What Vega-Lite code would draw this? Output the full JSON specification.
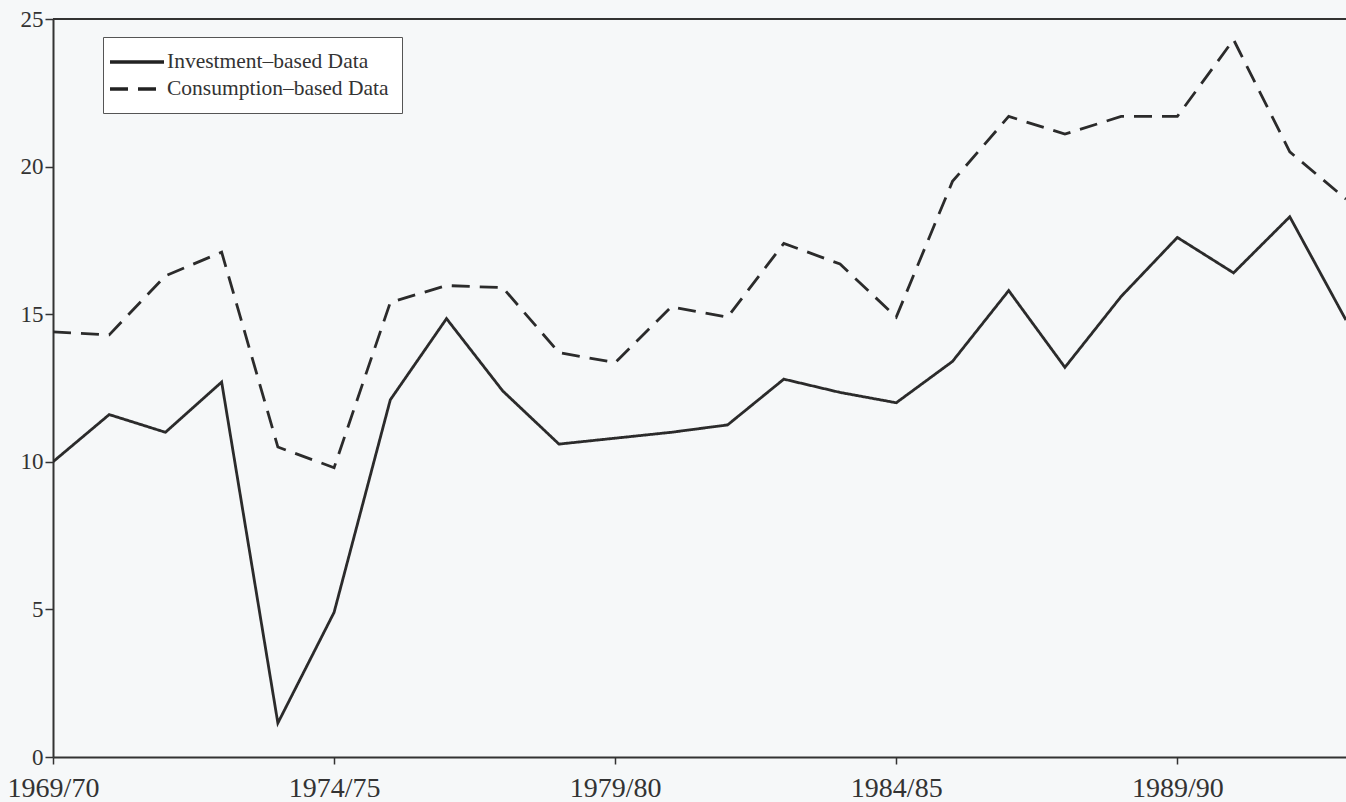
{
  "$schema": "https://vega.github.io/schema/vega-lite/v6.json",
  "width": 1293,
  "height": 738,
  "autosize": {"type": "none"},
  "padding": {"left": 53, "top": 19, "right": 0, "bottom": 45},
  "background": "#f6f8f9",
  "config": {"view": {"stroke": null}, "font": "Liberation Serif"},
  "datasets": {
    "series": [
      {"year": 1969, "series": "Investment–based Data", "value": 10.0},
      {"year": 1970, "series": "Investment–based Data", "value": 11.6},
      {"year": 1971, "series": "Investment–based Data", "value": 11.0},
      {"year": 1972, "series": "Investment–based Data", "value": 12.7},
      {"year": 1973, "series": "Investment–based Data", "value": 1.15},
      {"year": 1974, "series": "Investment–based Data", "value": 4.9},
      {"year": 1975, "series": "Investment–based Data", "value": 12.1},
      {"year": 1976, "series": "Investment–based Data", "value": 14.85},
      {"year": 1977, "series": "Investment–based Data", "value": 12.4},
      {"year": 1978, "series": "Investment–based Data", "value": 10.6},
      {"year": 1979, "series": "Investment–based Data", "value": 10.8},
      {"year": 1980, "series": "Investment–based Data", "value": 11.0},
      {"year": 1981, "series": "Investment–based Data", "value": 11.25},
      {"year": 1982, "series": "Investment–based Data", "value": 12.8},
      {"year": 1983, "series": "Investment–based Data", "value": 12.35},
      {"year": 1984, "series": "Investment–based Data", "value": 12.0},
      {"year": 1985, "series": "Investment–based Data", "value": 13.4},
      {"year": 1986, "series": "Investment–based Data", "value": 15.8},
      {"year": 1987, "series": "Investment–based Data", "value": 13.2},
      {"year": 1988, "series": "Investment–based Data", "value": 15.6},
      {"year": 1989, "series": "Investment–based Data", "value": 17.6},
      {"year": 1990, "series": "Investment–based Data", "value": 16.4},
      {"year": 1991, "series": "Investment–based Data", "value": 18.3},
      {"year": 1992, "series": "Investment–based Data", "value": 14.8},
      {"year": 1969, "series": "Consumption–based Data", "value": 14.4},
      {"year": 1970, "series": "Consumption–based Data", "value": 14.3},
      {"year": 1971, "series": "Consumption–based Data", "value": 16.3},
      {"year": 1972, "series": "Consumption–based Data", "value": 17.1},
      {"year": 1973, "series": "Consumption–based Data", "value": 10.5},
      {"year": 1974, "series": "Consumption–based Data", "value": 9.8},
      {"year": 1975, "series": "Consumption–based Data", "value": 15.4},
      {"year": 1976, "series": "Consumption–based Data", "value": 15.97},
      {"year": 1977, "series": "Consumption–based Data", "value": 15.9},
      {"year": 1978, "series": "Consumption–based Data", "value": 13.7},
      {"year": 1979, "series": "Consumption–based Data", "value": 13.36},
      {"year": 1980, "series": "Consumption–based Data", "value": 15.25},
      {"year": 1981, "series": "Consumption–based Data", "value": 14.9},
      {"year": 1982, "series": "Consumption–based Data", "value": 17.4},
      {"year": 1983, "series": "Consumption–based Data", "value": 16.7},
      {"year": 1984, "series": "Consumption–based Data", "value": 14.9},
      {"year": 1985, "series": "Consumption–based Data", "value": 19.5},
      {"year": 1986, "series": "Consumption–based Data", "value": 21.7},
      {"year": 1987, "series": "Consumption–based Data", "value": 21.1},
      {"year": 1988, "series": "Consumption–based Data", "value": 21.7},
      {"year": 1989, "series": "Consumption–based Data", "value": 21.7},
      {"year": 1990, "series": "Consumption–based Data", "value": 24.3},
      {"year": 1991, "series": "Consumption–based Data", "value": 20.5},
      {"year": 1992, "series": "Consumption–based Data", "value": 18.9}
    ]
  },
  "layer": [
    {
      "data": {"values": [{"k": 1}]},
      "mark": {"type": "rule", "color": "#333333", "strokeWidth": 2},
      "encoding": {"y": {"datum": 25, "type": "quantitative"}}
    },
    {
      "data": {"name": "series"},
      "mark": {"type": "line", "color": "#2b2b2b", "strokeWidth": 2.8, "clip": true},
      "encoding": {
        "x": {
          "field": "year",
          "type": "quantitative",
          "scale": {"domain": [1969, 1992], "nice": false, "zero": false},
          "axis": {
            "title": null,
            "values": [1969, 1974, 1979, 1984, 1989],
            "labelExpr": "datum.value + '/' + slice(toString(datum.value + 1), 2)",
            "grid": false,
            "domainColor": "#333333",
            "domainWidth": 2,
            "tickColor": "#333333",
            "tickSize": 7,
            "tickWidth": 1.5,
            "labelFont": "Liberation Serif",
            "labelFontSize": 28,
            "labelColor": "#333333",
            "labelPadding": 10,
            "labelFlush": false,
            "labelOverlap": false
          }
        },
        "y": {
          "field": "value",
          "type": "quantitative",
          "scale": {"domain": [0, 25], "nice": false, "zero": true},
          "axis": {
            "title": null,
            "values": [0, 5, 10, 15, 20, 25],
            "grid": false,
            "domainColor": "#333333",
            "domainWidth": 2,
            "tickColor": "#333333",
            "tickSize": 8,
            "tickWidth": 1.5,
            "labelFont": "Liberation Serif",
            "labelFontSize": 23,
            "labelColor": "#333333",
            "labelPadding": 2
          }
        },
        "strokeDash": {
          "field": "series",
          "type": "nominal",
          "scale": {
            "domain": ["Investment–based Data", "Consumption–based Data"],
            "range": [[1, 0], [18, 10]]
          },
          "legend": {
            "title": null,
            "orient": "none",
            "legendX": 50,
            "legendY": 18,
            "padding": 13,
            "strokeColor": "#555555",
            "fillColor": "#ffffff",
            "symbolType": "M-2.7,0H2.7",
            "symbolSize": 400,
            "symbolOffset": 9,
            "symbolStrokeWidth": 3.5,
            "symbolStrokeColor": "#222222",
            "labelFont": "Liberation Serif",
            "labelFontSize": 21.5,
            "labelColor": "#333333",
            "labelOffset": 18,
            "rowPadding": 4,
            "labelLimit": 400,
            "encode": {
              "symbols": {
                "update": {
                  "strokeDash": {"signal": "datum.value === 'Consumption–based Data' ? [7, 21] : [1, 0]"}
                }
              }
            }
          }
        }
      }
    }
  ]
}
